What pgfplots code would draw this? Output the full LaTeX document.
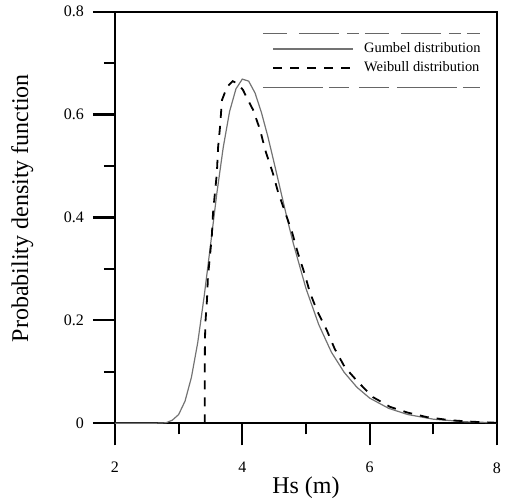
\documentclass[border=0pt]{standalone}
\usepackage{fontspec}
\setmainfont{Liberation Serif}
\usepackage{pgfplots}
\pgfplotsset{compat=1.18}

% Gumbel pdf
\pgfplotstableread{
x     y
2.00  0.000
2.60  0.000
2.80  0.001
2.90  0.006
3.00  0.017
3.10  0.043
3.20  0.089
3.30  0.157
3.40  0.246
3.50  0.346
3.60  0.447
3.70  0.536
3.80  0.606
3.90  0.650
4.00  0.669
4.10  0.665
4.20  0.642
4.30  0.604
4.40  0.558
4.50  0.506
4.60  0.453
4.70  0.400
4.80  0.350
5.00  0.262
5.20  0.192
5.40  0.138
5.60  0.099
5.80  0.070
6.00  0.049
6.30  0.029
6.60  0.017
7.00  0.008
7.50  0.003
8.00  0.001
}\gumbel

% Weibull pdf
\pgfplotstableread{
x     y
3.410 0.000
3.410 0.100
3.413 0.160
3.420 0.195
3.445 0.240
3.460 0.284
3.490 0.323
3.520 0.362
3.540 0.409
3.570 0.448
3.600 0.486
3.620 0.537
3.650 0.576
3.680 0.628
3.760 0.654
3.850 0.665
3.930 0.660
4.010 0.648
4.090 0.628
4.170 0.609
4.280 0.570
4.360 0.531
4.480 0.486
4.560 0.450
4.670 0.411
4.780 0.372
4.870 0.332
4.980 0.290
5.060 0.255
5.170 0.220
5.330 0.180
5.450 0.145
5.610 0.109
5.820 0.080
6.050 0.051
6.320 0.032
6.590 0.021
6.900 0.012
7.260 0.006
7.620 0.003
8.000 0.001
}\weibull

\begin{document}
\begin{tikzpicture}
\begin{axis}[
    scale only axis,
    width=191pt, height=205.8pt,
    xmin=2, xmax=8, ymin=0, ymax=0.8,
    xtick={2,4,6,8}, ytick={0,0.2,0.4,0.6,0.8},
    minor x tick num=1, minor y tick num=1,
    tick pos=left, tick align=outside,
    major tick length=11pt, minor tick length=5.5pt,
    every tick/.style={black, line width=1.1pt},
    axis line style={line width=1.1pt},
    /pgf/number format/assume math mode=true,
    ticklabel style={font=\fontsize{8}{9.6}\selectfont},
    xticklabel style={yshift=-5pt},
    yticklabel style={xshift=-1pt},
    label style={font=\fontsize{12}{14}\selectfont},
    xlabel={Hs (m)},
    ylabel={Probability density function},
    xlabel style={at={(axis description cs:0.5,-0.157)}, anchor=center},
    ylabel style={at={(axis description cs:-0.243,0.523)}, anchor=center},
    legend cell align=left,
    legend image code/.code={\draw[#1] (0pt,0pt) -- (40pt,0pt);},
    legend style={draw=none, fill=none, font=\fontsize{7.2}{8.6}\selectfont,
        at={(rel axis cs:0.411,0.931)}, anchor=north west, inner sep=0pt,
        row sep=1pt, nodes={inner sep=1pt},
        /tikz/every odd column/.append style={column sep=4pt}},
  ]
  \addplot[black!55, line width=0.6pt] table {\gumbel};
  \addlegendentry{Gumbel distribution}
  \addplot[black, line width=0.9pt, dash pattern=on 4.5pt off 4pt] table {\weibull};
  \addlegendentry{Weibull distribution}
  % top and right edges of the frame
  \draw[black, line width=1.1pt] (rel axis cs:0,1) -- (rel axis cs:1,1) -- (rel axis cs:1,0);
  % broken rules above and below the legend
  \draw[black!60, line width=0.5pt, dash pattern=on 12pt off 6pt on 20pt off 4pt on 6pt off 3pt]
    (rel axis cs:0.387,0.948) -- (rel axis cs:0.955,0.948);
  \draw[black!60, line width=0.5pt, dash pattern=on 30pt off 3pt on 10pt off 5pt on 15pt off 4pt]
    (rel axis cs:0.387,0.815) -- (rel axis cs:0.955,0.815);
  \coordinate (bbl) at (rel axis cs:-0.301,-0.1863);
  \coordinate (btr) at (rel axis cs:1.021,1.0284);
\end{axis}
\pgfresetboundingbox
\path (bbl) rectangle (btr);
\end{tikzpicture}
\end{document}
